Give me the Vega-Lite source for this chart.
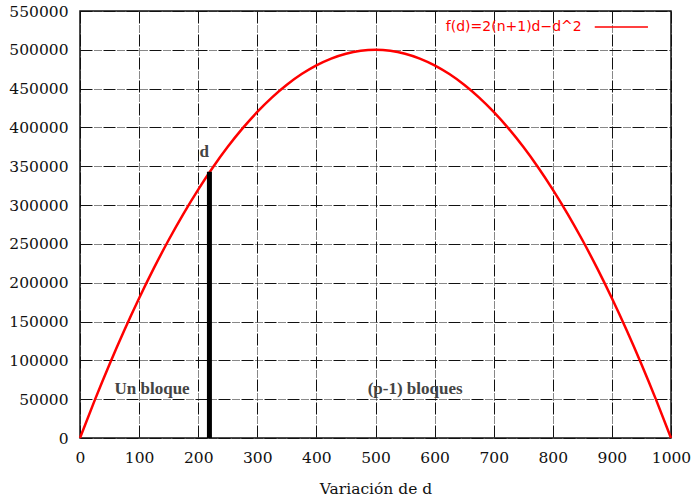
{
  "$schema": "https://vega.github.io/schema/vega-lite/v6.json",
  "width": 591,
  "height": 427,
  "autosize": {"type": "none"},
  "padding": {"left": 80, "top": 11, "right": 20, "bottom": 64},
  "background": "white",
  "config": {
    "view": {"stroke": "#111", "strokeWidth": 1.5},
    "axis": {
      "labelFont": "DejaVu Serif",
      "labelFontSize": 15.5,
      "labelColor": "#111",
      "labelOverlap": false,
      "labelFlush": false,
      "labelBound": false,
      "titleFont": "DejaVu Serif",
      "titleFontSize": 15.5,
      "titleFontWeight": "normal",
      "titleColor": "#111",
      "domain": false,
      "ticks": false,
      "grid": true,
      "gridColor": "#111",
      "gridOpacity": 1,
      "gridWidth": 1,
      "gridDash": [12, 2, 1, 1, 1, 1, 1, 1, 1, 2]
    }
  },
  "datasets": {
    "curve": [
      {"d": 0, "f": 0}, {"d": 25, "f": 48750}, {"d": 50, "f": 95000}, {"d": 75, "f": 138750},
      {"d": 100, "f": 180000}, {"d": 125, "f": 218750}, {"d": 150, "f": 255000}, {"d": 175, "f": 288750},
      {"d": 200, "f": 320000}, {"d": 225, "f": 348750}, {"d": 250, "f": 375000}, {"d": 275, "f": 398750},
      {"d": 300, "f": 420000}, {"d": 325, "f": 438750}, {"d": 350, "f": 455000}, {"d": 375, "f": 468750},
      {"d": 400, "f": 480000}, {"d": 425, "f": 488750}, {"d": 450, "f": 495000}, {"d": 475, "f": 498750},
      {"d": 500, "f": 500000}, {"d": 525, "f": 498750}, {"d": 550, "f": 495000}, {"d": 575, "f": 488750},
      {"d": 600, "f": 480000}, {"d": 625, "f": 468750}, {"d": 650, "f": 455000}, {"d": 675, "f": 438750},
      {"d": 700, "f": 420000}, {"d": 725, "f": 398750}, {"d": 750, "f": 375000}, {"d": 775, "f": 348750},
      {"d": 800, "f": 320000}, {"d": 825, "f": 288750}, {"d": 850, "f": 255000}, {"d": 875, "f": 218750},
      {"d": 900, "f": 180000}, {"d": 925, "f": 138750}, {"d": 950, "f": 95000}, {"d": 975, "f": 48750},
      {"d": 1000, "f": 0}
    ],
    "bar": [{"d": 219, "f": 0, "f1": 343000}],
    "labels": [
      {"d": 210, "f": 368000, "t": "d"},
      {"d": 122, "f": 63000, "t": "Un bloque"},
      {"d": 567, "f": 63000, "t": "(p-1) bloques"}
    ],
    "legend": [{"d": 849, "f": 529400, "t": "f(d)=2(n+1)d\u2212d^2", "d2": 871, "d3": 961}]
  },
  "encoding": {
    "x": {"field": "d", "type": "quantitative", "scale": {"domain": [0, 1000], "nice": false},
          "axis": {"values": [0,100,200,300,400,500,600,700,800,900,1000], "format": "d", "title": "Variación de d", "labelPadding": 12, "titlePadding": 16}},
    "y": {"field": "f", "type": "quantitative", "scale": {"domain": [0, 550000], "nice": false},
          "axis": {"values": [0,50000,100000,150000,200000,250000,300000,350000,400000,450000,500000,550000], "format": "d", "title": null, "labelPadding": 12}}
  },
  "layer": [
    {
      "data": {"name": "curve"},
      "mark": {"type": "line", "color": "#ff0000", "strokeWidth": 2.5, "interpolate": "monotone"}
    },
    {
      "data": {"name": "bar"},
      "mark": {"type": "rule", "color": "#000", "strokeWidth": 5},
      "encoding": {
        "y2": {"field": "f1"}
      }
    },
    {
      "data": {"name": "labels"},
      "mark": {"type": "text", "font": "Liberation Serif", "fontWeight": "bold", "fontSize": 17, "color": "#444", "align": "center", "baseline": "middle"},
      "encoding": {
        "text": {"field": "t"}
      }
    },
    {
      "data": {"name": "legend"},
      "mark": {"type": "text", "font": "DejaVu Sans", "fontSize": 14, "color": "#ff0000", "align": "right", "baseline": "middle"},
      "encoding": {
        "text": {"field": "t"}
      }
    },
    {
      "data": {"name": "legend"},
      "mark": {"type": "rule", "color": "#ff0000", "strokeWidth": 1.5},
      "encoding": {
        "x": {"field": "d2", "type": "quantitative"},
        "x2": {"field": "d3"}
      }
    }
  ]
}
